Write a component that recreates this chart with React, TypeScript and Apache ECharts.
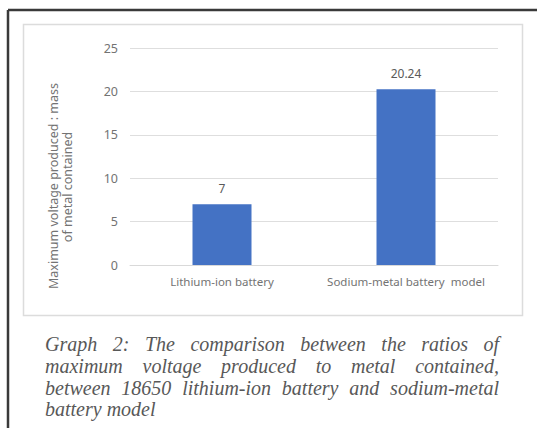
import React, { useEffect, useRef } from "react";
import * as echarts from "echarts";

const categories = ["Lithium-ion battery", "Sodium-metal battery  model"];
const values = [7, 20.24];
const valueLabels = ["7", "20.24"];
const yTicks = { min: 0, max: 25, interval: 5 };
const yTitleLines = ["Maximum voltage produced : mass", "of metal contained"];
const captionLines = [
  "Graph 2: The comparison between the ratios of",
  "maximum voltage produced to metal contained,",
  "between 18650 lithium-ion battery and sodium-metal",
  "battery model",
];

const CAPTION_FONT = "italic 20px 'Liberation Serif'";

function buildCaption(): any[] {
  const canvas = document.createElement("canvas");
  const ctx = canvas.getContext("2d")!;
  ctx.font = CAPTION_FONT;
  const left = 45;
  const right = 499;
  const ys = [343, 365, 387, 408];
  const els: any[] = [];
  captionLines.forEach((line, i) => {
    const words = line.split(" ");
    const justify = i < captionLines.length - 1;
    const widths = words.map((w) => ctx.measureText(w).width);
    const total = widths.reduce((a, b) => a + b, 0);
    const spaceW = ctx.measureText(" ").width;
    const gap = justify && words.length > 1 ? (right - left - total) / (words.length - 1) : spaceW;
    let x = left;
    words.forEach((w, j) => {
      els.push({
        type: "text",
        x,
        y: ys[i] + 1,
        silent: true,
        style: {
          text: w,
          font: CAPTION_FONT,
          fill: "#585858",
          align: "left",
          verticalAlign: "middle",
        },
      });
      x += widths[j] + gap;
    });
  });
  return els;
}

export default function App() {
  const ref = useRef<HTMLDivElement>(null);
  useEffect(() => {
    if (!ref.current) return;
    const chart = echarts.init(ref.current, undefined, { renderer: "svg" });
    const textColor = "#737373";
    chart.setOption({
      animation: false,
      backgroundColor: "#ffffff",
      grid: { left: 130, right: 39, top: 48, bottom: 163 },
      xAxis: {
        type: "category",
        data: categories,
        axisLine: { show: true, lineStyle: { color: "#d9d9d9", width: 1 } },
        axisTick: { show: false },
        axisLabel: {
          interval: 0,
          color: textColor,
          fontSize: 11.5,
          fontFamily: "'Noto Sans'",
          margin: 10,
        },
      },
      yAxis: {
        type: "value",
        min: yTicks.min,
        max: yTicks.max,
        interval: yTicks.interval,
        axisLine: { show: false },
        axisTick: { show: false },
        splitLine: { lineStyle: { color: "#dedede", width: 1 } },
        axisLabel: {
          color: textColor,
          fontSize: 12.5,
          fontFamily: "'Noto Sans'",
          margin: 12,
        },
      },
      series: [
        {
          type: "bar",
          data: values,
          barWidth: 59,
          itemStyle: { color: "#4472c4" },
          label: {
            show: true,
            position: "top",
            distance: 10,
            color: "#5a5a5a",
            fontSize: 12,
            fontFamily: "'Noto Sans'",
            formatter: (p: any) => valueLabels[p.dataIndex],
          },
        },
      ],
      graphic: [
        {
          type: "line",
          silent: true,
          shape: { x1: 8, y1: 10, x2: 537, y2: 10 },
          style: { stroke: "#3a3a3a", lineWidth: 2.5 },
        },
        {
          type: "line",
          silent: true,
          shape: { x1: 8, y1: 10, x2: 8, y2: 428 },
          style: { stroke: "#3a3a3a", lineWidth: 2.5 },
        },
        {
          type: "rect",
          silent: true,
          shape: { x: 23.5, y: 24.5, width: 499, height: 291 },
          style: { fill: "none", stroke: "#dcdcdc", lineWidth: 1.5 },
        },
        {
          type: "text",
          x: 53,
          y: 186,
          rotation: Math.PI / 2,
          silent: true,
          style: {
            text: yTitleLines[0],
            fill: textColor,
            font: "12.5px 'Noto Sans'",
            align: "center",
            verticalAlign: "middle",
          },
        },
        {
          type: "text",
          x: 67,
          y: 187,
          rotation: Math.PI / 2,
          silent: true,
          style: {
            text: yTitleLines[1],
            fill: textColor,
            font: "12.5px 'Noto Sans'",
            align: "center",
            verticalAlign: "middle",
          },
        },
        ...buildCaption(),
      ],
    });
    return () => chart.dispose();
  }, []);
  return (
    <div
      ref={ref}
      style={{ position: "fixed", left: 0, top: 0, width: 537, height: 428 }}
    />
  );
}
